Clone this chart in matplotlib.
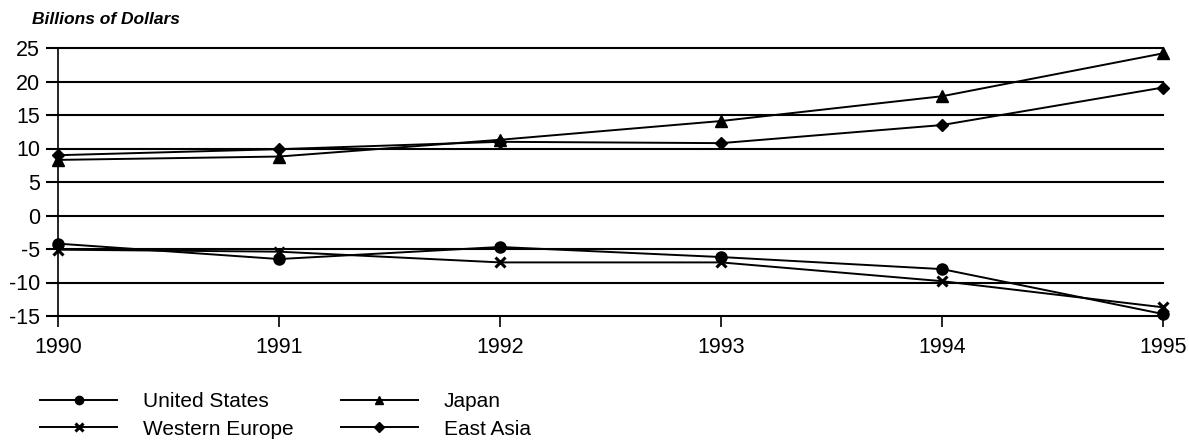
import matplotlib.pyplot as plt

plt.rcParams['font.family'] = ['Liberation Sans', 'DejaVu Sans']
plt.rcParams['axes.unicode_minus'] = False

years = [1990, 1991, 1992, 1993, 1994, 1995]
united_states = [-4.2, -6.5, -4.7, -6.2, -8.0, -14.7]
western_europe = [-5.1, -5.4, -7.0, -7.0, -9.8, -13.7]
japan = [8.3, 8.8, 11.3, 14.1, 17.8, 24.2]
east_asia = [9.0, 9.9, 11.0, 10.8, 13.5, 19.1]
y_ticks = [-15, -10, -5, 0, 5, 10, 15, 20, 25]

fig = plt.figure(figsize=(11.89, 4.42), dpi=100)
ax = fig.add_axes([58 / 1189, 1 - 316 / 442, (1163 - 58) / 1189, (316 - 48) / 442])

# horizontal gridlines, not clipped so the top one is full width
for v in y_ticks:
    ax.axhline(v, color='black', lw=1.5, clip_on=False, zorder=1)

us, = ax.plot(years, united_states, color='black', lw=1.4, marker='o', ms=8, clip_on=False, label='United States')
jp, = ax.plot(years, japan, color='black', lw=1.4, marker='^', ms=8, clip_on=False, label='Japan')
we, = ax.plot(years, western_europe, color='black', lw=1.4, marker='x', ms=7, mew=2.2, clip_on=False, label='Western Europe')
ea, = ax.plot(years, east_asia, color='black', lw=1.4, marker='D', ms=6.5, clip_on=False, label='East Asia')

ax.set_xlim(1990, 1995)
ax.set_ylim(-15, 25)
ax.set_yticks(y_ticks)
ax.set_xticks(years)
for s in ['top', 'right', 'bottom']:
    ax.spines[s].set_visible(False)
ax.spines['left'].set_linewidth(1.2)
ax.tick_params(axis='y', length=9, width=1.5, labelsize=15.5, pad=4)
ax.tick_params(axis='x', length=8, width=1.2, labelsize=15.5, pad=7)

fig.text(32 / 1189, 1 - 20 / 442, 'Billions of Dollars', fontsize=12.5, fontweight='bold',
         fontstyle='italic', va='center', ha='left')

# order so rows read: United States, Japan / Western Europe, East Asia
fig.legend([us, we, jp, ea], ['United States', 'Western Europe', 'Japan', 'East Asia'],
           ncol=2, loc='upper left', bbox_to_anchor=(40 / 1189, 1 - 392 / 442),
           frameon=False, fontsize=15, handlelength=3.7, handletextpad=1.25, columnspacing=2.25,
           labelspacing=0.42, borderaxespad=0, borderpad=0, markerscale=0.75, handleheight=0.7)

fig.savefig('out.png', dpi=100)
